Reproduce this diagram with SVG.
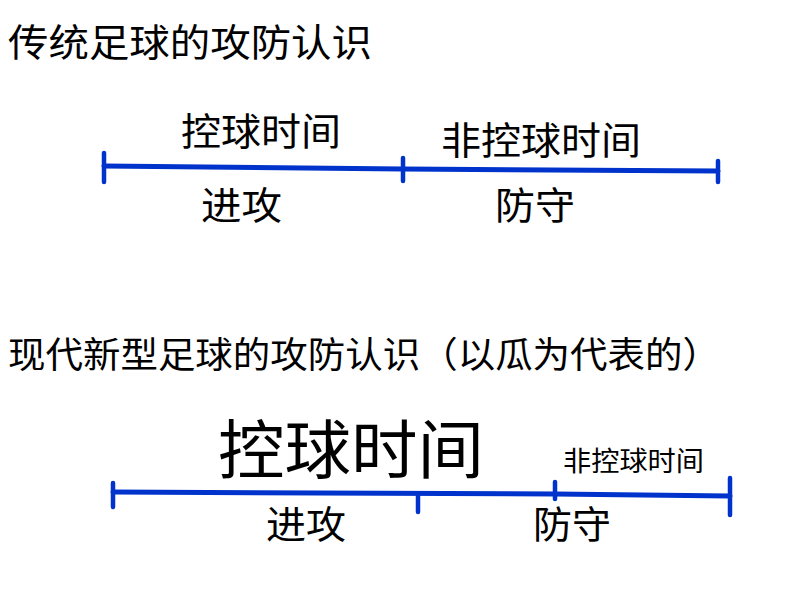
<svg xmlns="http://www.w3.org/2000/svg" width="800" height="600" viewBox="0 0 800 600">
<style>
text{font-family:"Liberation Serif","Noto Sans CJK SC",serif;fill:#000;}
.ln{stroke:#0033cc;stroke-width:5;stroke-linecap:round;fill:none;}
.tk{stroke-width:4.5;}
</style>
<rect width="800" height="600" fill="#fff"/>
<g id="title1"><text x="8" y="56" font-size="38" textLength="364" lengthAdjust="spacingAndGlyphs">传统足球的攻防认识</text></g>
<g id="timeline1">
<g id="lines1" class="ln">
<path d="M104 166 L403 169 L718 171"/>
<path class="tk" d="M104 153 V182"/>
<path class="tk" d="M403 158 V181"/>
<path class="tk" d="M718 161 V182"/>
</g>
<text x="181" y="145" font-size="38" textLength="160" lengthAdjust="spacingAndGlyphs">控球时间</text>
<text x="441" y="154" font-size="38" textLength="200" lengthAdjust="spacingAndGlyphs">非控球时间</text>
<text x="201" y="219" font-size="38" textLength="81" lengthAdjust="spacingAndGlyphs">进攻</text>
<text x="495" y="219" font-size="38" textLength="80" lengthAdjust="spacingAndGlyphs">防守</text>
</g>
<g id="title2"><text x="8" y="368" font-size="36" textLength="712" lengthAdjust="spacingAndGlyphs">现代新型足球的攻防认识（以瓜为代表的）</text></g>
<g id="timeline2">
<g id="lines2" class="ln">
<path d="M113 492 L555 494 L730 496"/>
<path class="tk" d="M113 483 V507"/>
<path class="tk" d="M418 494 V512"/>
<path class="tk" d="M555 482 V499"/>
<path class="tk" d="M730 478 V515"/>
</g>
<text x="218" y="473" font-size="64" textLength="266" lengthAdjust="spacingAndGlyphs">控球时间</text>
<text x="563" y="471" font-size="27" textLength="141" lengthAdjust="spacingAndGlyphs">非控球时间</text>
<text x="266" y="538" font-size="38" textLength="80" lengthAdjust="spacingAndGlyphs">进攻</text>
<text x="533" y="538" font-size="38" textLength="78" lengthAdjust="spacingAndGlyphs">防守</text>
</g>
</svg>
